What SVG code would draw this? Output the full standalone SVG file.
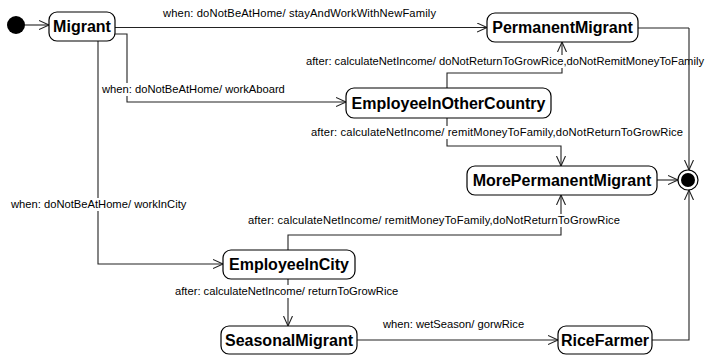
<svg xmlns="http://www.w3.org/2000/svg" width="707" height="355" viewBox="0 0 707 355">
<style>
.node rect{fill:#fff;stroke:#000;stroke-width:1.2}
.node text{font-family:"Liberation Sans",Arial,sans-serif;font-weight:bold;font-size:16px;text-anchor:middle;fill:#000}
.edge{fill:none;stroke:#222;stroke-width:1.1}
.lbl{font-family:"Liberation Sans",Arial,sans-serif;font-size:11.2px;fill:#000}
.bg{fill:#fff}
</style>
<defs>
<marker id="arr" markerUnits="userSpaceOnUse" markerWidth="12" markerHeight="12" refX="10" refY="5" orient="auto">
<path d="M0,0.5 L10,5 L0,9.5" fill="none" stroke="#222" stroke-width="1.1"/>
</marker>
</defs>
<g id="connectors">
<path class="edge" d="M25,25 H49" marker-end="url(#arr)"/>
<path class="edge" d="M115,27.5 H487" marker-end="url(#arr)"/>
<path class="edge" d="M115,34 H127 V102 H346" marker-end="url(#arr)"/>
<path class="edge" d="M98,41 V264 H223" marker-end="url(#arr)"/>
<path class="edge" d="M447,88 V73 H562 V42" marker-end="url(#arr)"/>
<path class="edge" d="M447,118 V146 H561 V166" marker-end="url(#arr)"/>
<path class="edge" d="M288,250 V235 H561 V195" marker-end="url(#arr)"/>
<path class="edge" d="M288,279 V326" marker-end="url(#arr)"/>
<path class="edge" d="M357,340 H558" marker-end="url(#arr)"/>
<path class="edge" d="M657,180 H678" marker-end="url(#arr)"/>
<path class="edge" d="M652,340 H689 V190" marker-end="url(#arr)"/>
<rect class="bg" x="101" y="83" width="187" height="13"/>
<rect class="bg" x="305" y="55" width="402" height="13"/>
<rect class="bg" x="310" y="126" width="375" height="13"/>
<rect class="bg" x="10" y="198" width="178" height="13"/>
<rect class="bg" x="247" y="214" width="375" height="13"/>
<rect class="bg" x="174" y="285" width="228" height="13"/>
<text class="lbl" x="163" y="17" textLength="273" lengthAdjust="spacing">when: doNotBeAtHome/ stayAndWorkWithNewFamily</text>
<text class="lbl" x="306" y="65" textLength="398" lengthAdjust="spacing">after: calculateNetIncome/ doNotReturnToGrowRice,doNotRemitMoneyToFamily</text>
<text class="lbl" x="102" y="93">when: doNotBeAtHome/ workAboard</text>
<text class="lbl" x="311" y="136" textLength="372" lengthAdjust="spacing">after: calculateNetIncome/ remitMoneyToFamily,doNotReturnToGrowRice</text>
<text class="lbl" x="11" y="208">when: doNotBeAtHome/ workInCity</text>
<text class="lbl" x="248" y="224" textLength="372" lengthAdjust="spacing">after: calculateNetIncome/ remitMoneyToFamily,doNotReturnToGrowRice</text>
<text class="lbl" x="175" y="295">after: calculateNetIncome/ returnToGrowRice</text>
<text class="lbl" x="383" y="328">when: wetSeason/ gorwRice</text>
<path class="edge" d="M689,28 V170" marker-end="url(#arr)"/>
<path class="edge" d="M638,28 H689"/>
</g>
<g id="initial"><circle cx="16" cy="25" r="9" fill="#000"/></g>
<g id="final"><circle cx="688" cy="180" r="10" fill="#fff" stroke="#000" stroke-width="1.2"/><circle cx="688" cy="180" r="7" fill="#000"/></g>
<g id="Migrant" class="node"><rect x="49" y="12" width="66" height="29" rx="8"/><text x="82" y="32">Migrant</text></g>
<g id="PermanentMigrant" class="node"><rect x="487" y="13" width="151" height="29" rx="8"/><text x="562.5" y="33">PermanentMigrant</text></g>
<g id="EmployeeInOtherCountry" class="node"><rect x="346" y="88" width="205" height="30" rx="8"/><text x="448.5" y="108.5">EmployeeInOtherCountry</text></g>
<g id="MorePermanentMigrant" class="node"><rect x="467" y="166" width="190" height="29" rx="8"/><text x="562" y="186">MorePermanentMigrant</text></g>
<g id="EmployeeInCity" class="node"><rect x="223" y="250" width="132" height="29" rx="8"/><text x="289" y="270">EmployeeInCity</text></g>
<g id="SeasonalMigrant" class="node"><rect x="221" y="326" width="136" height="28" rx="8"/><text x="289" y="346">SeasonalMigrant</text></g>
<g id="RiceFarmer" class="node"><rect x="558" y="326" width="94" height="28" rx="8"/><text x="605" y="346">RiceFarmer</text></g>
</svg>
